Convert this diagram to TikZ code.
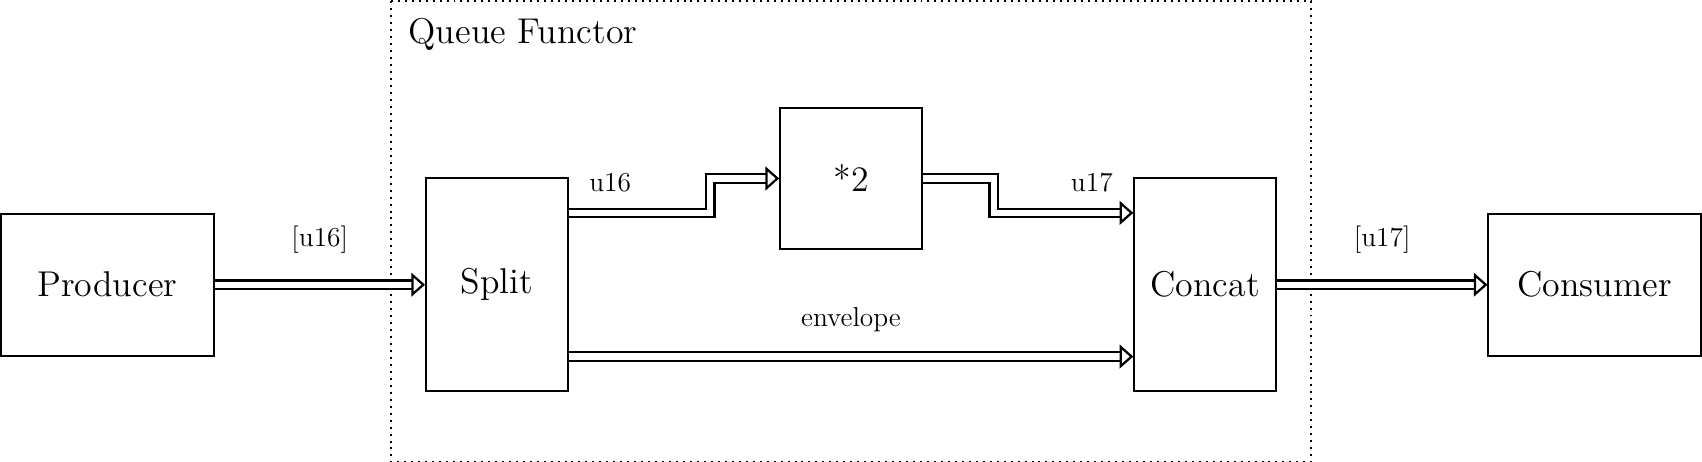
\documentclass[tikz,border=0pt]{standalone}
\usepackage{tikz}
\usetikzlibrary{arrows.meta}

\begin{document}
\begin{tikzpicture}
        \tikzset{block/.style = {shape=rectangle,draw,thick,inner sep=0pt,font=\Large}}
        \tikzset{wide/.style = {block,minimum width=3cm,minimum height=2cm}}
        \tikzset{tall/.style = {block,minimum width=2cm,minimum height=3cm}}
        \tikzset{square/.style = {block,minimum width=2cm,minimum height=2cm}}
        \tikzset{lbl/.style = {font=\fontsize{11}{13}\selectfont}}
        \tikzset{pipe/.style = {double,line width=0.9pt,double distance=2.5pt,-{Triangle[open,length=5.5pt,width=9.5pt]}}}
        \useasboundingbox (-0.015,0.02) rectangle (24.015,-6.503);
        % functor frame
        \draw[dotted,thick] (5.5,0) rectangle (18.5,-6.5);
        \node[anchor=west,font=\Large] (title) at (5.63,-0.46) {Queue Functor};
        % blocks
        \node[wide] (producer) at (1.5,-4) {Producer};
        \node[tall] (split) at (7,-4) {Split};
        \node[square] (times) at (12,-2.5) {*2};
        \node[tall] (concat) at (17,-4) {Concat};
        \node[wide] (consumer) at (22.5,-4) {Consumer};
        % labels
        \node[lbl] (lin) at (4.5,-3.36) {[u16]};
        \node[lbl] (lu16) at (8.6,-2.56) {u16};
        \node[lbl] (lu17) at (15.4,-2.56) {u17};
        \node[lbl] (lout) at (19.5,-3.36) {[u17]};
        \node[lbl] (lenv) at (12,-4.49) {envelope};
        % pipes
        \draw[pipe] (producer) to (split);
        \draw[pipe] (split.45) -- ++(2,0) |- (times.west);
        \draw[pipe] (times.east) -- ++(1,0) |- (concat.135);
        \draw[pipe] (split.-45) to (concat.-135);
        \draw[pipe] (concat) to (consumer);
\end{tikzpicture}
\end{document}
